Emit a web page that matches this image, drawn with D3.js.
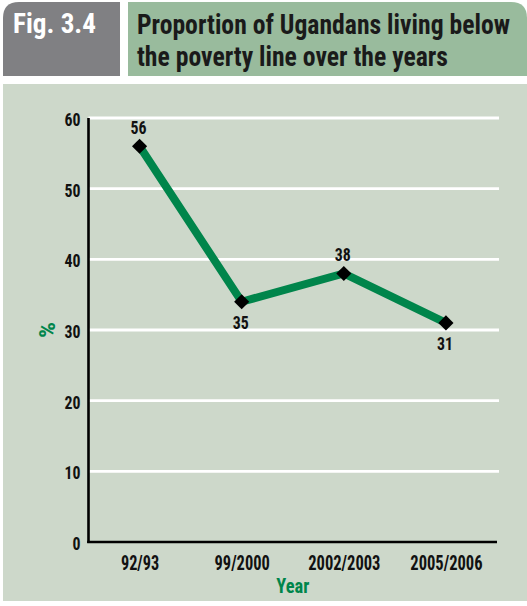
<!DOCTYPE html>
<html>
<head>
<meta charset="utf-8">
<script src="https://cdn.jsdelivr.net/npm/d3@7"></script>
<style>
  html, body { margin: 0; padding: 0; background: #ffffff; }
  svg { display: block; }
  text { font-family: "Liberation Sans Narrow", "Roboto Condensed", "DejaVu Sans Condensed", Roboto, "Liberation Sans", sans-serif; font-weight: bold; }
</style>
</head>
<body>
<svg id="chart" width="527" height="606"></svg>
<script>
// ---- data ----
const figLabel = "Fig. 3.4";
const titleLines = ["Proportion of Ugandans living below", "the poverty line over the years"];
const categories = ["92/93", "99/2000", "2002/2003", "2005/2006"];
const values = [56, 34, 38, 31];            // plotted positions as drawn
const valueLabels = ["56", "35", "38", "31"]; // printed labels
const yTicks = [0, 10, 20, 30, 40, 50, 60];
const xTitle = "Year";
const yTitle = "%";

(function () {
const W = 527, H = 606;
const svg = d3.select("#chart");
const green = "#00854b";

// condensed-look width: digits ~8.3px, slash ~4px at the chart's size
function condensedWidth(s, digitW) {
  let w = 0;
  for (const ch of s) w += (ch === "/" ? digitW * 0.5 : digitW);
  return w;
}

// header: grey box
const gx0 = 3, gx1 = 120, gy0 = 2, gy1 = 76, r = 16;
svg.append("path")
  .attr("d", `M${gx0},${gy1} L${gx0},${gy0 + r} Q${gx0},${gy0} ${gx0 + r},${gy0} L${gx1},${gy0} L${gx1},${gy1} Z`)
  .attr("fill", "#808083");
// header: green box
const hx0 = 128, hx1 = 527;
svg.append("path")
  .attr("d", `M${hx0},${gy1} L${hx0},${gy0} L${hx1 - r},${gy0} Q${hx1},${gy0} ${hx1},${gy0 + r} L${hx1},${gy1} Z`)
  .attr("fill", "#99bb9d");

svg.append("text")
  .attr("transform", "translate(13,33) scale(1,1.4)")
  .attr("font-size", 20)
  .attr("fill", "#ffffff")
  .attr("textLength", 83).attr("lengthAdjust", "spacingAndGlyphs")
  .text(figLabel);

const titleWidths = [373, 311];
titleLines.forEach((t, i) => {
  svg.append("text")
    .attr("transform", `translate(137,${34 + i * 32}) scale(1,1.4)`)
    .attr("font-size", 20)
    .attr("fill", "#1a1a1a")
    .attr("textLength", titleWidths[i]).attr("lengthAdjust", "spacingAndGlyphs")
    .text(t);
});

// panel
svg.append("rect")
  .attr("x", 3).attr("y", 84).attr("width", W - 3).attr("height", 517)
  .attr("fill", "#cdd8ca");

// scales
const pLeft = 88.5, pRight = 497, pTop = 118, pBottom = 542;
const x = d3.scalePoint().domain(categories).range([pLeft, pRight]).padding(0.5);
const y = d3.scaleLinear().domain([0, 60]).range([pBottom, pTop]);

// gridlines
svg.append("g")
  .selectAll("line")
  .data(yTicks.filter(d => d > 0))
  .join("line")
  .attr("x1", pLeft).attr("x2", 499)
  .attr("y1", d => y(d)).attr("y2", d => y(d))
  .attr("stroke", "#ffffff").attr("stroke-width", 2.8);

// y axis
const yAxis = svg.append("g")
  .attr("transform", `translate(${pLeft},0)`)
  .call(d3.axisLeft(y).tickValues(yTicks).tickSize(0).tickPadding(8).tickFormat(d3.format("d")));
yAxis.select(".domain").remove();
yAxis.attr("font-family", null).attr("font-size", null);
yAxis.selectAll("text")
  .attr("font-size", 17.5)
  .attr("fill", "#111")
  .attr("dy", "0.42em")
  .attr("textLength", d => condensedWidth(String(d), 8))
  .attr("lengthAdjust", "spacingAndGlyphs");
svg.append("line")
  .attr("x1", pLeft).attr("x2", pLeft).attr("y1", pTop).attr("y2", pBottom + 1)
  .attr("stroke", "#000").attr("stroke-width", 2.6);

// x axis
const xAxis = svg.append("g")
  .attr("transform", `translate(0,${pBottom})`)
  .call(d3.axisBottom(x).tickSize(0).tickPadding(14));
xAxis.select(".domain").remove();
xAxis.attr("font-family", null).attr("font-size", null);
xAxis.selectAll("text")
  .attr("font-size", 20)
  .attr("fill", "#111")
  .attr("dy", "0.71em")
  .attr("textLength", d => condensedWidth(d, 8.5))
  .attr("lengthAdjust", "spacingAndGlyphs");
svg.append("line")
  .attr("x1", pLeft - 1.3).attr("x2", pRight).attr("y1", pBottom).attr("y2", pBottom)
  .attr("stroke", "#000").attr("stroke-width", 2.6);

// axis titles
svg.append("text")
  .attr("x", (pLeft + pRight) / 2).attr("y", 593)
  .attr("text-anchor", "middle")
  .attr("font-size", 21)
  .attr("fill", green)
  .attr("textLength", 33).attr("lengthAdjust", "spacingAndGlyphs")
  .text(xTitle);
svg.append("text")
  .attr("transform", `translate(55,330) rotate(-90)`)
  .attr("text-anchor", "middle")
  .attr("font-size", 22)
  .attr("fill", green)
  .attr("textLength", 16).attr("lengthAdjust", "spacingAndGlyphs")
  .text(yTitle);

// line
const pts = categories.map((c, i) => ({ c, v: values[i], label: valueLabels[i], i }));
svg.append("path")
  .datum(pts)
  .attr("d", d3.line().x(d => x(d.c)).y(d => y(d.v)))
  .attr("fill", "none")
  .attr("stroke", green)
  .attr("stroke-width", 8)
  .attr("stroke-linejoin", "miter");

// diamonds
svg.append("g")
  .selectAll("path")
  .data(pts)
  .join("path")
  .attr("d", d3.symbol().type(d3.symbolSquare).size(115))
  .attr("transform", d => `translate(${x(d.c)},${y(d.v)}) rotate(45)`)
  .attr("fill", "#000");

// value labels: above local maxima, below local minima
function isAbove(d) {
  const prev = d.i > 0 ? values[d.i - 1] : -Infinity;
  const next = d.i < values.length - 1 ? values[d.i + 1] : -Infinity;
  return d.v >= prev && d.v >= next;
}
svg.append("g")
  .selectAll("text")
  .data(pts)
  .join("text")
  .attr("x", d => x(d.c) - 1)
  .attr("y", d => isAbove(d) ? y(d.v) - 12 : y(d.v) + 27)
  .attr("text-anchor", "middle")
  .attr("font-size", 18.5)
  .attr("fill", "#111")
  .attr("textLength", d => condensedWidth(d.label, 8))
  .attr("lengthAdjust", "spacingAndGlyphs")
  .text(d => d.label);
})();
</script>
</body>
</html>
